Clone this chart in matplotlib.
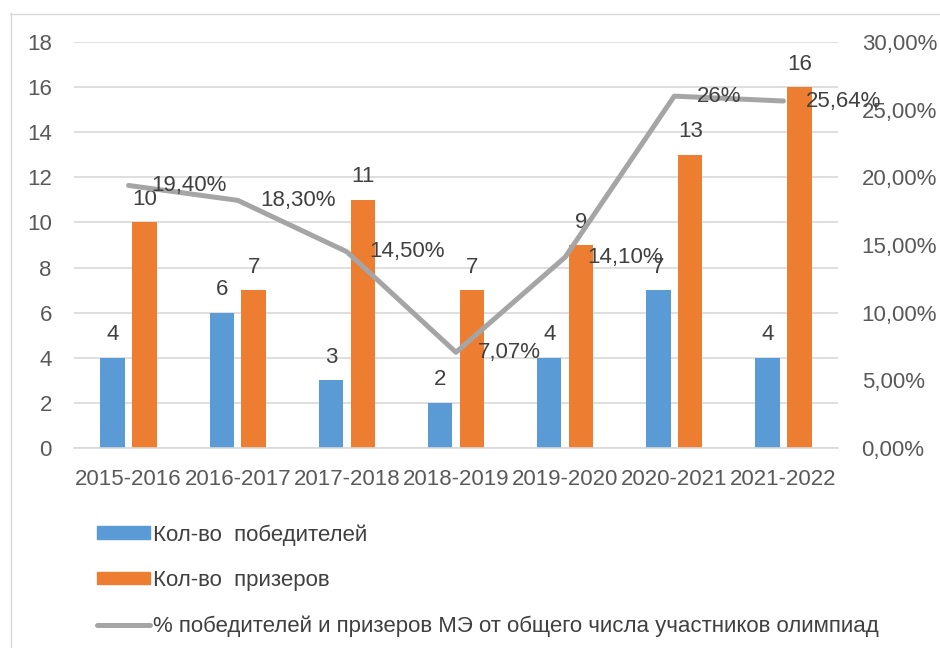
import numpy as np
import matplotlib
matplotlib.use("Agg")
import matplotlib.pyplot as plt
from matplotlib.lines import Line2D
from matplotlib.patches import Patch

plt.rcParams['font.family'] = ['Liberation Sans', 'DejaVu Sans']

## chart data
years = ['2015-2016', '2016-2017', '2017-2018', '2018-2019', '2019-2020', '2020-2021', '2021-2022']
winners = [4, 6, 3, 2, 4, 7, 4]
prizers = [10, 7, 11, 7, 9, 13, 16]
share = [19.40, 18.30, 14.50, 7.07, 14.10, 26.0, 25.64]
share_labels = ['19,40%', '18,30%', '14,50%', '7,07%', '14,10%', '26%', '25,64%']

labels = ['Кол-во  победителей', 'Кол-во  призеров',
          '% победителей и призеров МЭ от общего числа участников олимпиад']

blue = '#5B9BD5'
orange = '#ED7D31'
grey = '#A5A5A5'
tick_col = '#595959'
lab_col = '#404040'
fs = 16

W, H = 940, 648
fig = plt.figure(figsize=(W / 100, H / 100), dpi=100)

## outer chart frame (light grey border)
fig.add_artist(Line2D([10.5 / W, 10.5 / W], [0, 1 - 13 / H], color='#d9d9d9', lw=1))
fig.add_artist(Line2D([10 / W, 1], [1 - 13.5 / H, 1 - 13.5 / H], color='#d9d9d9', lw=1))

ax = fig.add_axes([74 / W, 1 - 448 / H, (838 - 74) / W, (448 - 42) / H])
ax2 = ax.twinx()

x = np.arange(len(years))
bw = 0.225
off = 0.146
b1 = ax.bar(x - off, winners, bw, color=blue, zorder=2)
b2 = ax.bar(x + off, prizers, bw, color=orange, zorder=2)

for rects, vals in ((b1, winners), (b2, prizers)):
    for r, v in zip(rects, vals):
        ax.annotate(str(v), (r.get_x() + r.get_width() / 2, r.get_height()),
                    xytext=(0, 9), textcoords='offset points',
                    ha='center', va='bottom', fontsize=fs, color=lab_col)

ax.set_xlim(-0.5, len(years) - 0.5)
ax.set_ylim(0, 18)
ax.set_yticks(np.arange(0, 19, 2))
ax.grid(axis='y', color='#d9d9d9', lw=1.2, zorder=0)
ax.set_axisbelow(True)
ax.set_xticks(x)
ax.set_xticklabels(years)
ax.tick_params(axis='x', length=0, pad=15, labelsize=fs, colors=tick_col)
ax.tick_params(axis='y', length=0, pad=16, labelsize=fs, colors=tick_col)

ax2.plot(x, np.array(share) / 100, color=grey, lw=3.6, solid_capstyle='round', zorder=3)
for xi, v, t in zip(x, share, share_labels):
    ax2.annotate(t, (xi, v / 100), xytext=(16, 0), textcoords='offset points',
                 ha='left', va='center', fontsize=fs, color=lab_col)
ax2.set_ylim(0, 0.30)
ax2.set_yticks(np.arange(0, 0.301, 0.05))
ax2.set_yticklabels([('%.2f%%' % (v * 100)).replace('.', ',') for v in np.arange(0, 0.301, 0.05)])
ax2.tick_params(axis='y', length=0, pad=17, labelsize=fs, colors=tick_col)

for a in (ax, ax2):
    for s in a.spines.values():
        s.set_visible(False)
ax.spines['bottom'].set_visible(True)
ax.spines['bottom'].set_color('#d9d9d9')
ax.spines['bottom'].set_linewidth(1.2)

handles = [Patch(color=blue), Patch(color=orange),
           Line2D([0], [0], color=grey, lw=3.6, solid_capstyle='round')]
fig.legend(handles, labels, loc='upper left', bbox_to_anchor=(77 / W, 1 - 504 / H),
           frameon=False, fontsize=fs, labelcolor=lab_col, handlelength=2.4,
           handleheight=0.5, handletextpad=0.12, labelspacing=1.1)

fig.savefig('out.png', dpi=100)
